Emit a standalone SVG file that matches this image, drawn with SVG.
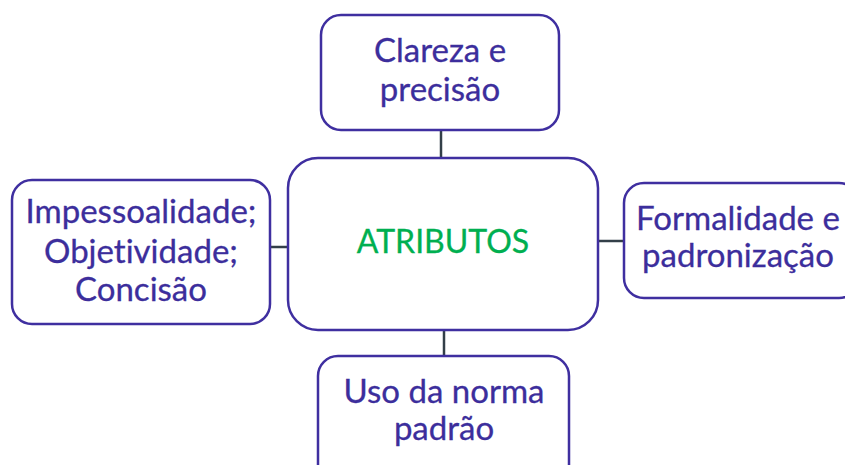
<svg xmlns="http://www.w3.org/2000/svg" width="845" height="465" viewBox="0 0 845 465">
<style>
.box{fill:#fff;stroke:#3F2FA0;stroke-width:2.5}
.t{font-family:Lato,"Open Sans","DejaVu Sans",sans-serif;font-size:33px;fill:#3C2E9C;stroke:#3C2E9C;stroke-width:0.3;text-anchor:middle;font-variant-ligatures:none}
.g{fill:#00AF50;stroke:#00AF50;font-size:32px}
.c{stroke:#333F48;stroke-width:2.5;fill:none}
</style>
<rect width="845" height="465" fill="#fff"/>
<g id="connectors">
<line class="c" x1="441" y1="130" x2="441" y2="158"/>
<line class="c" x1="270" y1="247" x2="288" y2="247"/>
<line class="c" x1="598" y1="241" x2="624" y2="241"/>
<line class="c" x1="444" y1="330" x2="444" y2="356"/>
</g>
<g id="center">
<rect class="box" x="288" y="158" width="310" height="172" rx="30"/>
<text class="t g" x="443" y="253">ATRIBUTOS</text>
</g>
<g id="top">
<rect class="box" x="321" y="15" width="238" height="115" rx="20"/>
<text class="t" x="440" y="62">Clareza e</text>
<text class="t" x="440" y="101">precisão</text>
</g>
<g id="left">
<rect class="box" x="12" y="180" width="258" height="144" rx="20"/>
<text class="t" x="141" y="223">Impessoalidade;</text>
<text class="t" x="141" y="263">Objetividade;</text>
<text class="t" x="141" y="301">Concisão</text>
</g>
<g id="right">
<rect class="box" x="624" y="183" width="235" height="115" rx="20"/>
<text class="t" x="738" y="230">Formalidade e</text>
<text class="t" x="738" y="267">padronização</text>
</g>
<g id="bottom">
<rect class="box" x="318" y="356" width="251" height="130" rx="20"/>
<text class="t" x="444" y="403">Uso da norma</text>
<text class="t" x="444" y="440">padrão</text>
</g>
</svg>
